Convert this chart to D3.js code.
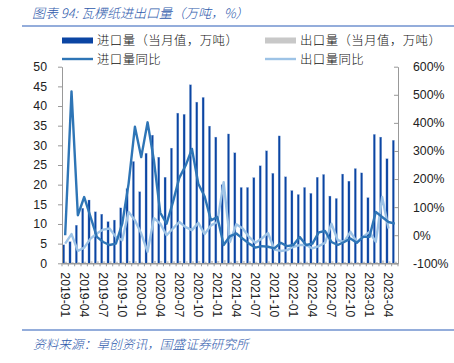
<!DOCTYPE html>
<html><head><meta charset="utf-8">
<script src="https://cdn.jsdelivr.net/npm/d3@7"></script>
<style>
html,body{margin:0;padding:0;background:#fff;}
svg{display:block;}
text{font-family:"Liberation Sans",Arial,sans-serif;}
.cjk{font-family:"Noto Sans CJK SC","Liberation Sans",sans-serif;}
</style></head>
<body>
<script>
const categories = (function(){const a=[];for(let y=2019;y<=2023;y++){for(let m=1;m<=12;m++){if(y===2023&&m>5)break;a.push(y+"-"+String(m).padStart(2,"0"));}}return a;})();
const tickLabels = ["2019-01","2019-04","2019-07","2019-10","2020-01","2020-04","2020-07","2020-10","2021-01","2021-04","2021-07","2021-10","2022-01","2022-04","2022-07","2022-10","2023-01","2023-04"];
const importVol = [4.7,5.5,9.7,14,16.1,13.1,12.5,10.6,11.0,14.1,
  19,25.9,18.2,28.0,32.6,27.0,21.9,29.3,38.2,37.9,
  45.4,41.0,42.2,34.9,32.1,20,32.9,28.1,19.3,19.3,
  21.8,24.8,28.6,22.9,32.4,22.0,18.5,17.5,19.3,17.8,
  21.9,22.6,17.1,16.5,22.7,20.9,24.1,23.0,16.7,32.8,
  32.1,26.6,31.3];
const exportVol = [0.4,0.3,0.3,0.4,0.5,0.5,0.5,0.5,0.4,0.4,
  0.6,0.5,0.4,0.2,0.6,0.6,0.5,0.5,0.6,0.5,
  0.5,0.6,0.4,0.6,0.6,0.8,0.4,0.6,0.6,0.5,
  0.4,0.4,0.5,0.3,0.3,0.3,0.3,0.4,0.4,0.3,
  0.3,0.4,0.5,0.3,0.3,0.4,0.3,0.4,0.4,0.3,
  0.7,0.5,0.4];
const importYoY = [0,512,71,136,65,-6,-24,-35,-30,41,
  183,386,278,402,266,80,41,118,204,248,
  307,183,138,53,65,-35,-3,6,-12,-30,
  -44,-39,-41,-47,-27,-39,-35,-6,-35,-30,
  10,15,-24,-35,-24,-12,-27,-6,-6,83,
  65,47,41];
const exportYoY = [-30,4,-56,-44,-12,6,20,24,-6,-18,
  83,53,6,-59,61,41,0,24,47,29,
  18,44,4,35,47,189,-24,39,24,-6,
  -27,-12,8,-51,-56,-53,-41,-35,-35,-47,
  -39,-27,41,-18,-24,12,-24,-6,12,-24,
  136,24,null];
const leftTicks = [0,5,10,15,20,25,30,35,40,45,50];
const rightTicks = [-100,0,100,200,300,400,500,600];

const W=454,H=363;
const M={left:62,right:398,top:66.7,bottom:263.3};
const svg=d3.select("body").append("svg").attr("width",W).attr("height",H);

// title
svg.append("text").attr("class","cjk").attr("x",32).attr("y",18)
  .attr("font-size",13).attr("font-style","italic").attr("font-weight",300).attr("fill","#2E5AAC")
  .text("图表 94: 瓦楞纸进出口量（万吨，%）");
svg.append("line").attr("x1",22).attr("x2",454).attr("y1",26).attr("y2",26)
  .attr("stroke","#2B5DB8").attr("stroke-width",1.2);

const x=d3.scaleBand().domain(categories).range([M.left,M.right]).padding(0);
const yL=d3.scaleLinear().domain([0,50]).range([M.bottom,M.top]);
const yR=d3.scaleLinear().domain([-100,600]).range([M.bottom,M.top]);
const bw=x.bandwidth();

// bars
svg.append("g").selectAll("rect").data(importVol).join("rect")
  .attr("x",(d,i)=>x(categories[i])+bw*0.5-2.6).attr("width",2.2)
  .attr("y",d=>yL(d)).attr("height",d=>yL(0)-yL(d))
  .attr("fill","#0B45A3").attr("stroke","#9fb8de").attr("stroke-width",0.3);
svg.append("g").selectAll("rect").data(exportVol).join("rect")
  .attr("x",(d,i)=>x(categories[i])+bw*0.5-0.2).attr("width",2.2)
  .attr("y",d=>yL(d)).attr("height",d=>yL(0)-yL(d))
  .attr("fill","#C8C8C8");

// axes
const axL=svg.append("g").attr("transform",`translate(${M.left},0)`)
  .call(d3.axisLeft(yL).tickValues(leftTicks).tickSize(4).tickPadding(11).tickSizeOuter(0));
const axR=svg.append("g").attr("transform",`translate(${M.right},0)`)
  .call(d3.axisRight(yR).tickValues(rightTicks).tickSize(-4).tickPadding(15).tickSizeOuter(0).tickFormat(d=>d+"%"));
[axL,axR].forEach(a=>{
  a.select(".domain").attr("stroke","#999");
  a.selectAll(".tick line").attr("stroke","#999");
  a.selectAll("text").attr("font-size",12.3).attr("fill","#222").attr("font-family","Liberation Sans, Arial, sans-serif");
});
const axB=svg.append("g").attr("transform",`translate(0,${M.bottom})`)
  .call(d3.axisBottom(x).tickValues(tickLabels).tickSize(0).tickPadding(0).tickSizeOuter(0));
axB.select(".domain").attr("stroke","#999").attr("stroke-width",1.5);
axB.selectAll("text").attr("font-size",12.3).attr("fill","#222")
  .attr("font-family","Liberation Sans, Arial, sans-serif")
  .attr("text-anchor","start").attr("dy","0.35em")
  .attr("transform","translate(0,9) rotate(90)");
// month boundary ticks
svg.append("g").selectAll("line").data(categories.concat(["end"])).join("line")
  .attr("x1",(d,i)=>M.left+i*bw).attr("x2",(d,i)=>M.left+i*bw)
  .attr("y1",M.bottom).attr("y2",M.bottom+3).attr("stroke","#999");

// lines
const lineImp=d3.line().x((d,i)=>x(categories[i])+bw/2).y(d=>yR(d));
const lineExp=d3.line().defined(d=>d!==null).x((d,i)=>x(categories[i])+bw/2).y(d=>yR(d));
svg.append("path").datum(exportYoY).attr("d",lineExp).attr("fill","none")
  .attr("stroke","#9DC3E6").attr("stroke-width",2.4).attr("stroke-linejoin","round");
svg.append("path").datum(importYoY).attr("d",lineImp).attr("fill","none")
  .attr("stroke","#2E75B6").attr("stroke-width",2.4).attr("stroke-linejoin","round");

// legend
const lg=svg.append("g");
lg.append("rect").attr("x",62).attr("y",37.5).attr("width",31).attr("height",6).attr("fill","#0B45A3");
lg.append("text").attr("class","cjk").attr("x",97).attr("y",45).attr("font-size",12.4).attr("letter-spacing",0.45).attr("font-weight",300).attr("fill","#111").text("进口量（当月值，万吨）");
lg.append("rect").attr("x",265).attr("y",37.5).attr("width",31).attr("height",6).attr("fill","#C8C8C8");
lg.append("text").attr("class","cjk").attr("x",300).attr("y",45).attr("font-size",12.4).attr("letter-spacing",0.45).attr("font-weight",300).attr("fill","#111").text("出口量（当月值，万吨）");
lg.append("line").attr("x1",62).attr("x2",93).attr("y1",59).attr("y2",59).attr("stroke","#2E75B6").attr("stroke-width",2.4);
lg.append("text").attr("class","cjk").attr("x",97).attr("y",64).attr("font-size",12.4).attr("letter-spacing",0.45).attr("font-weight",300).attr("fill","#111").text("进口量同比");
lg.append("line").attr("x1",265).attr("x2",296).attr("y1",59).attr("y2",59).attr("stroke","#9DC3E6").attr("stroke-width",2.4);
lg.append("text").attr("class","cjk").attr("x",300).attr("y",64).attr("font-size",12.4).attr("letter-spacing",0.45).attr("font-weight",300).attr("fill","#111").text("出口量同比");

// footer
svg.append("line").attr("x1",22).attr("x2",454).attr("y1",330).attr("y2",330)
  .attr("stroke","#2B5DB8").attr("stroke-width",1.2);
svg.append("text").attr("class","cjk").attr("x",33).attr("y",349)
  .attr("font-size",12.7).attr("font-style","italic").attr("font-weight",300).attr("fill","#2E5AAC")
  .text("资料来源：卓创资讯，国盛证券研究所");
</script>
</body></html>
